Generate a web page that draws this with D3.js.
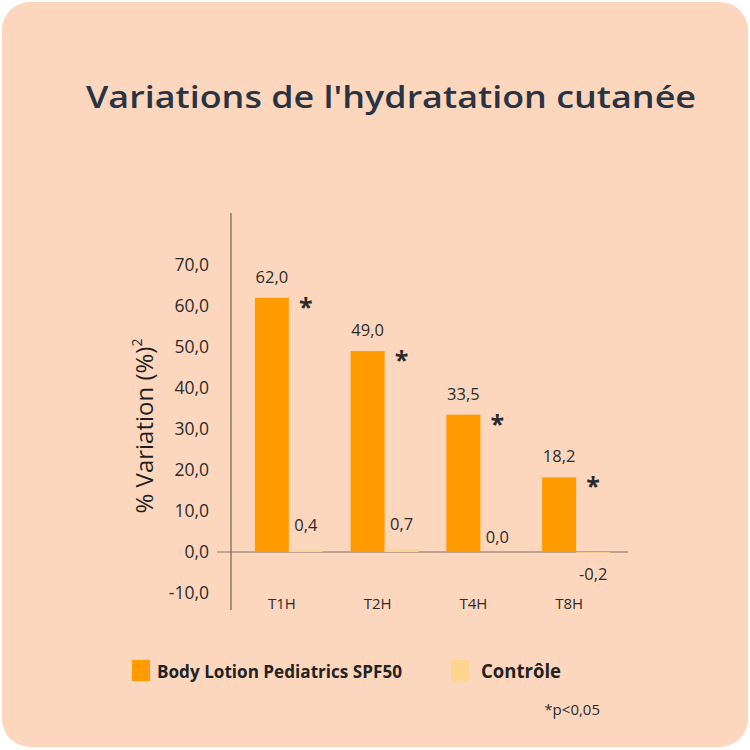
<!DOCTYPE html>
<html>
<head>
<meta charset="utf-8">
<script src="https://cdn.jsdelivr.net/npm/d3@7"></script>
<style>
  html, body { margin: 0; padding: 0; background: #ffffff; }
  svg { display: block; font-family: "Open Sans", "Noto Sans", sans-serif; }
</style>
</head>
<body>
<div id="chart"></div>
<script>
const width = 750;
const height = 750;

// data
const categories = ["T1H", "T2H", "T4H", "T8H"];
const lotionValues = [62.0, 49.0, 33.5, 18.2];
const controlValues = [0.4, 0.7, 0.0, -0.2];
const significant = [true, true, true, true];
const yTicks = [-10, 0, 10, 20, 30, 40, 50, 60, 70];
const seriesNames = ["Body Lotion Pediatrics SPF50", "Contrôle"];

const colors = { lotion: "#ff9b00", control: "#fed48f", text: "#2b2b2b" };
const fmt = v => v.toFixed(1).replace(".", ",");
const font = "'Open Sans', 'Noto Sans', sans-serif";

const svg = d3.select("#chart")
    .append("svg")
    .attr("width", width)
    .attr("height", height)
    .attr("viewBox", [0, 0, width, height]);

// card
svg.append("rect")
    .attr("x", 2).attr("y", 2)
    .attr("width", 746).attr("height", 745)
    .attr("rx", 28)
    .attr("fill", "#fdd7bd");

// title
svg.append("text")
    .attr("x", 86).attr("y", 108)
    .attr("font-size", 31)
    .attr("font-weight", 600)
    .attr("fill", "#2a3342")
    .attr("textLength", 610)
    .attr("lengthAdjust", "spacingAndGlyphs")
    .text("Variations de l'hydratation cutanée");

// scales
const y = d3.scaleLinear().domain([-10, 70]).range([593, 265]);
const x = d3.scaleBand().domain(categories).range([241, 624]);
const bw = 34;

// y axis line
svg.append("line")
    .attr("x1", 231).attr("x2", 231)
    .attr("y1", 213).attr("y2", 610)
    .attr("stroke", "#6b6159").attr("stroke-width", 1.2);

// y tick labels
const yAxis = d3.axisLeft(y).tickValues(yTicks).tickFormat(fmt).tickSize(0).tickPadding(0);
svg.append("g")
    .attr("transform", "translate(209,0)")
    .call(yAxis)
    .call(g => g.select(".domain").remove())
    .call(g => g.selectAll("text")
        .attr("font-size", 17.5)
        .attr("font-family", font)
        .attr("fill", colors.text));

// zero line
svg.append("line")
    .attr("x1", 217).attr("x2", 628)
    .attr("y1", y(0)).attr("y2", y(0))
    .attr("stroke", "#7a6f66").attr("stroke-width", 1.2);

// y axis title
svg.append("text")
    .attr("transform", `translate(153,${y(30) - 3}) rotate(-90)`)
    .attr("text-anchor", "middle")
    .attr("font-size", 24)
    .attr("fill", "#1f1f1f")
    .text("% Variation (%)")
    .append("tspan")
    .attr("dy", -11)
    .attr("font-size", 14)
    .text("2");

const rows = categories.map((c, i) => ({
    cat: c, lotion: lotionValues[i], control: controlValues[i], sig: significant[i]
}));

const groups = svg.append("g")
    .selectAll("g")
    .data(rows)
    .join("g")
    .attr("transform", d => `translate(${x(d.cat) + x.bandwidth() / 2},0)`);

// lotion bars
groups.append("rect")
    .attr("x", -bw)
    .attr("width", bw)
    .attr("y", d => y(Math.max(0, d.lotion)))
    .attr("height", d => Math.abs(y(d.lotion) - y(0)))
    .attr("fill", colors.lotion);

// control bars
groups.append("rect")
    .attr("x", 0)
    .attr("width", bw)
    .attr("y", d => y(Math.max(0, d.control)))
    .attr("height", d => Math.abs(y(d.control) - y(0)))
    .attr("fill", colors.control);

// lotion value labels
groups.append("text")
    .attr("x", -bw / 2)
    .attr("y", d => y(d.lotion) - 15)
    .attr("text-anchor", "middle")
    .attr("font-size", 16.5)
    .attr("fill", colors.text)
    .text(d => fmt(d.lotion));

// asterisks
groups.filter(d => d.sig).append("text")
    .attr("x", bw / 2)
    .attr("y", d => y(d.lotion) + 18)
    .attr("text-anchor", "middle")
    .attr("font-size", 25)
    .attr("font-weight", 700)
    .attr("fill", "#2a2a2a")
    .text("*");

// control value labels
groups.append("text")
    .attr("x", bw / 2)
    .attr("y", d => d.control > 0 ? y(d.control) - 19 : (d.control === 0 ? y(0) - 9 : y(0) + 28))
    .attr("text-anchor", "middle")
    .attr("font-size", 16.5)
    .attr("fill", colors.text)
    .text(d => fmt(d.control));

// category labels
groups.append("text")
    .attr("x", -7)
    .attr("y", 609)
    .attr("text-anchor", "middle")
    .attr("font-size", 15)
    .attr("fill", colors.text)
    .text(d => d.cat);

// legend
const legend = [
    { name: seriesNames[0], color: colors.lotion, x: 132, tx: 157, size: 17, len: 245 },
    { name: seriesNames[1], color: colors.control, x: 451, tx: 481, size: 19.5, len: 80 }
];
const lg = svg.append("g").selectAll("g").data(legend).join("g");
lg.append("rect")
    .attr("x", d => d.x).attr("y", 660)
    .attr("width", 18).attr("height", 21)
    .attr("fill", d => d.color);
lg.append("text")
    .attr("x", d => d.tx).attr("y", 678)
    .attr("font-size", d => d.size)
    .attr("font-weight", 700)
    .attr("fill", "#222")
    .attr("textLength", d => d.len)
    .attr("lengthAdjust", "spacingAndGlyphs")
    .text(d => d.name);

svg.append("text")
    .attr("x", 600).attr("y", 715)
    .attr("text-anchor", "end")
    .attr("font-size", 15)
    .attr("fill", colors.text)
    .text("*p<0,05");
</script>
</body>
</html>
